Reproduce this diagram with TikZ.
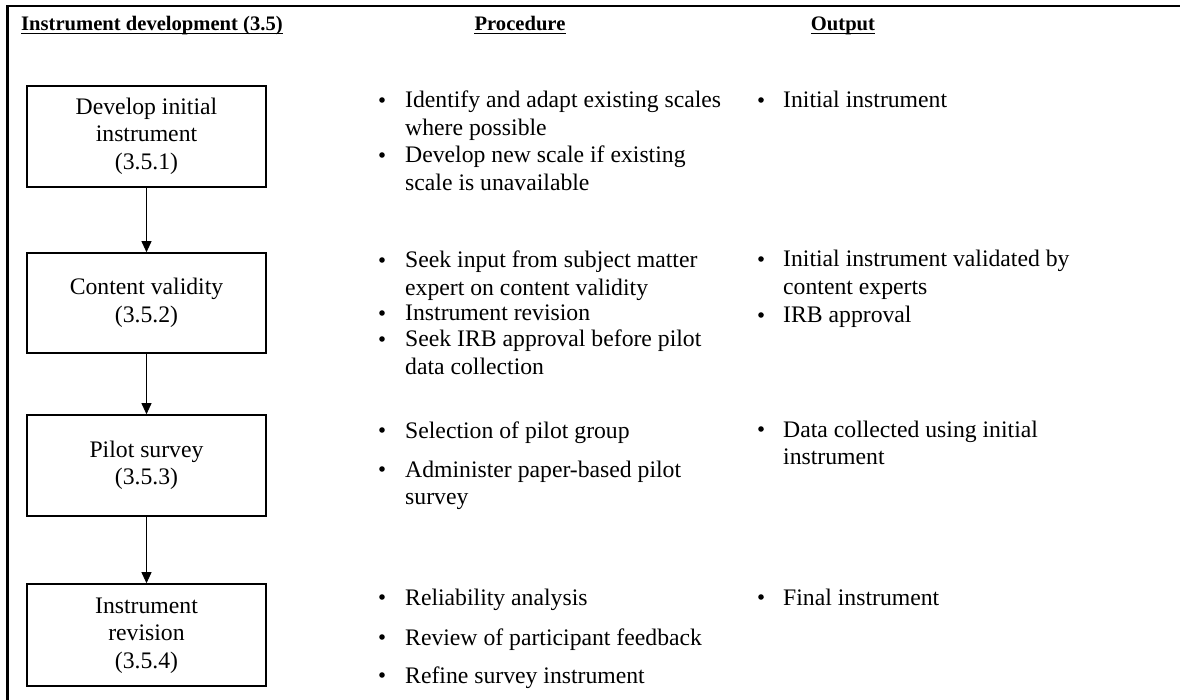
\documentclass[tikz,border=0pt]{standalone}
\usepackage{fontspec}
\setmainfont{Liberation Serif}
\usetikzlibrary{arrows.meta}

% font sizes for the chart
\newcommand{\bodyfont}{\fontsize{23.7}{27.5}\selectfont}
\newcommand{\headfont}{\fontsize{20.6}{24}\selectfont\bfseries}
% stacked lines whose baseline is the first line
\newcommand{\lns}[1]{\begin{tabular}[t]{@{}l@{}}#1\end{tabular}}
\newcommand{\clns}[1]{\begin{tabular}[t]{@{}c@{}}#1\end{tabular}}

\begin{document}
\begin{tikzpicture}[x=1pt,y=-1pt,
  stepbox/.style={draw, line width=1.6pt, minimum width=239pt, inner sep=0pt, font=\bodyfont},
  txt/.style={anchor=base west, inner sep=0pt, font=\bodyfont},
  dot/.style={circle, fill, inner sep=0pt, minimum size=5.6pt},
  head/.style={anchor=base, inner sep=0pt, font=\headfont},
  flow/.style={-{Triangle[width=10pt,length=11pt]}, line width=0.9pt},
  rule/.style={line width=1.2pt}
]
\useasboundingbox (0,0) rectangle (1180,700);

% frame
\draw[line width=2.2pt] (7.5,700) -- (7.5,6) -- (1180,6);

% column headings
\node[head, anchor=base west] (hsteps) at (21,31) {Instrument development (3.5)};
\node[head] (hproc) at (520,31) {Procedure};
\node[head] (hout) at (843,31) {Output};
\foreach \h in {hsteps,hproc,hout}
  \draw[rule] ([yshift=-2.5pt]\h.base west) -- ([yshift=-2.5pt]\h.base east);

% process steps
\node[stepbox, minimum height=101pt] (b1) at (146.5,136.5) {\raisebox{-3pt}{\clns{Develop initial\\instrument\\(3.5.1)}}};
\node[stepbox, minimum height=100pt] (b2) at (146.5,303) {\clns{Content validity\\(3.5.2)}};
\node[stepbox, minimum height=101pt] (b3) at (146.5,465.5) {\clns{Pilot survey\\(3.5.3)}};
\node[stepbox, minimum height=102pt] (b4) at (146.5,635) {\clns{Instrument\\revision\\(3.5.4)}};

\draw[flow] (b1) -- (b2);
\draw[flow] (b2) -- (b3);
\draw[flow] (b3) -- (b4);

% procedure column (bullet centres sit 8pt above each first baseline)
\node[dot] (pd1a) at (382,100) {};
\node[txt] (p1a) at (405,108) {\lns{Identify and adapt existing scales\\where possible}};
\node[dot] (pd1b) at (382,155) {};
\node[txt] (p1b) at (405,163) {\lns{Develop new scale if existing\\scale is unavailable}};

\node[dot] (pd2a) at (382,260) {};
\node[txt] (p2a) at (405,268) {\lns{Seek input from subject matter\\expert on content validity}};
\node[dot] (pd2b) at (382,313) {};
\node[txt] (p2b) at (405,321) {Instrument revision};
\node[dot] (pd2c) at (382,339) {};
\node[txt] (p2c) at (405,347) {\lns{Seek IRB approval before pilot\\data collection}};

\node[dot] (pd3a) at (382,430) {};
\node[txt] (p3a) at (405,438) {Selection of pilot group};
\node[dot] (pd3b) at (382,469) {};
\node[txt] (p3b) at (405,477) {\lns{Administer paper-based pilot\\survey}};

\node[dot] (pd4a) at (382,597) {};
\node[txt] (p4a) at (405,605) {Reliability analysis};
\node[dot] (pd4b) at (382,637) {};
\node[txt] (p4b) at (405,645) {Review of participant feedback};
\node[dot] (pd4c) at (382,675) {};
\node[txt] (p4c) at (405,683) {Refine survey instrument};

% output column
\node[dot] (od1) at (761,100) {};
\node[txt] (o1) at (783,108) {Initial instrument};

\node[dot] (od2a) at (761,259) {};
\node[txt] (o2a) at (783,267) {\lns{Initial instrument validated by\\content experts}};
\node[dot] (od2b) at (761,315) {};
\node[txt] (o2b) at (783,323) {IRB approval};

\node[dot] (od3) at (761,429) {};
\node[txt] (o3) at (783,437) {\lns{Data collected using initial\\instrument}};

\node[dot] (od4) at (761,597) {};
\node[txt] (o4) at (783,605) {Final instrument};
\end{tikzpicture}
\end{document}
